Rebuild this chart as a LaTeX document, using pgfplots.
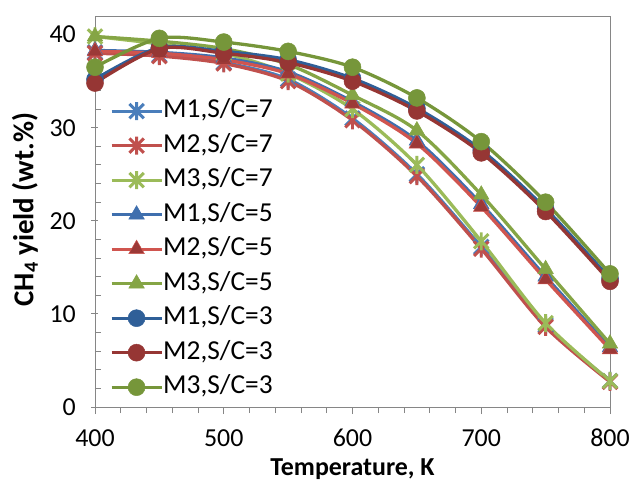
\documentclass[border=0pt]{standalone}
\usepackage{fontspec}
\setmainfont{Carlito}
\usepackage{pgfplots}
\pgfplotsset{compat=1.18}

\definecolor{b7}{HTML}{4A7EBB}
\definecolor{r7}{HTML}{C0504D}
\definecolor{g7}{HTML}{9BBB59}
\definecolor{b5}{HTML}{3F6FAE}
\definecolor{r5}{HTML}{D0554F}
\definecolor{g5}{HTML}{85A545}
\definecolor{b3}{HTML}{2F5F98}
\definecolor{r3}{HTML}{963634}
\definecolor{g3}{HTML}{76963A}
\definecolor{axgray}{HTML}{868686}

% Excel-style star: an X with a vertical stroke
\pgfdeclareplotmark{xstar}{%
  \pgfpathmoveto{\pgfqpoint{0pt}{\pgfplotmarksize}}%
  \pgfpathlineto{\pgfqpoint{0pt}{-\pgfplotmarksize}}%
  \pgfpathmoveto{\pgfqpoint{-.8\pgfplotmarksize}{-.8\pgfplotmarksize}}%
  \pgfpathlineto{\pgfqpoint{.8\pgfplotmarksize}{.8\pgfplotmarksize}}%
  \pgfpathmoveto{\pgfqpoint{-.8\pgfplotmarksize}{.8\pgfplotmarksize}}%
  \pgfpathlineto{\pgfqpoint{.8\pgfplotmarksize}{-.8\pgfplotmarksize}}%
  \pgfusepathqstroke}

\begin{document}
\begin{tikzpicture}
\begin{axis}[
    name=ax,
    scale only axis,
    width=515bp, height=391bp,
    xmin=400, xmax=800, ymin=0, ymax=42,
    xtick={400,500,...,800},
    minor x tick num=4,
    ytick={0,10,...,40},
    minor y tick num=4,
    axis line style={axgray, line width=1pt},
    tick style={axgray, line width=1pt},
    xtick pos=bottom, ytick pos=left,
    major tick length=7bp, minor tick length=6bp,
    x tick style={/pgfplots/tick align=outside},
    y tick style={/pgfplots/tick align=center},
    minor y tick style={/pgfplots/tick align=inside},
    /pgf/number format/assume math mode=true,
    ticklabel style={font=\fontsize{26}{28}\selectfont, text=black, inner sep=0pt},
    xticklabel style={yshift=-22bp},
    yticklabel style={xshift=-19bp},
    xlabel={\textbf{Temperature, K}},
    ylabel={\textbf{CH\textsubscript{4} yield (wt.\%)}},
    xlabel style={font=\fontsize{26}{28}\selectfont, at={(axis description cs:0.5,-0.1586)}, anchor=center},
    ylabel style={font=\fontsize{29}{31}\selectfont, at={(axis description cs:-0.136,0.505)}, anchor=center},
    every axis plot/.append style={smooth, line width=3.3pt},
    legend style={at={(0.029,0.786)}, anchor=north west, draw=none, fill=none,
        inner sep=0pt, outer sep=0pt,
        font=\fontsize{27.5}{29}\selectfont, row sep=11.5bp,
        nodes={inner sep=0pt, text height=18bp, text depth=5bp},
        /tikz/every even column/.append style={column sep=3bp}},
    legend cell align=left,
    legend image code/.code={
        \draw[mark repeat=2,mark phase=2] plot coordinates {(0bp,0bp) (25bp,0bp) (50bp,0bp)};
    },
]
% S/C=7 (stars)
\addplot[b7, mark=xstar, mark size=9bp, mark options={line width=3pt}] coordinates {
(400,38.1) (450,37.8) (500,37.0) (550,35.2) (600,31.0) (650,25.0) (700,17.2) (750,8.8) (800,2.8)};
\addlegendentry{M1,S/C=7}
\addplot[r7, mark=xstar, mark size=9bp, mark options={line width=3pt}] coordinates {
(400,38.0) (450,37.7) (500,36.9) (550,35.0) (600,30.8) (650,24.8) (700,17.0) (750,8.6) (800,2.7)};
\addlegendentry{M2,S/C=7}
\addplot[g7, mark=xstar, mark size=9bp, mark options={line width=3pt}] coordinates {
(400,39.8) (450,39.0) (500,38.0) (550,35.8) (600,32.0) (650,26.0) (700,17.8) (750,9.0) (800,2.8)};
\addlegendentry{M3,S/C=7}
% S/C=5 (triangles)
\addplot[b5, mark=triangle*, mark size=9bp, mark options={line width=0.5pt}] coordinates {
(400,38.3) (450,38.1) (500,37.5) (550,36.0) (600,32.8) (650,28.6) (700,21.8) (750,14.0) (800,6.4)};
\addlegendentry{M1,S/C=5}
\addplot[r5, mark=triangle*, mark size=9bp, mark options={line width=0.5pt, fill=r3!90!r5}] coordinates {
(400,38.2) (450,38.0) (500,37.3) (550,35.8) (600,32.6) (650,28.3) (700,21.5) (750,13.7) (800,6.2)};
\addlegendentry{M2,S/C=5}
\addplot[g5, mark=triangle*, mark size=9bp, mark options={line width=0.5pt}] coordinates {
(400,39.8) (450,39.3) (500,38.5) (550,36.8) (600,33.5) (650,29.7) (700,22.8) (750,14.8) (800,6.8)};
\addlegendentry{M3,S/C=5}
% S/C=3 (circles)
\addplot[b3, mark=*, mark size=8.5bp, mark options={line width=0.5pt}] coordinates {
(400,35.2) (450,38.6) (500,38.2) (550,37.3) (600,35.3) (650,32.1) (700,27.6) (750,21.3) (800,13.8)};
\addlegendentry{M1,S/C=3}
\addplot[r3, mark=*, mark size=8.5bp, mark options={line width=0.5pt}] coordinates {
(400,34.8) (450,38.5) (500,38.0) (550,37.0) (600,35.0) (650,31.8) (700,27.3) (750,21.0) (800,13.5)};
\addlegendentry{M2,S/C=3}
\addplot[g3, mark=*, mark size=8.5bp, mark options={line width=0.5pt}] coordinates {
(400,36.5) (450,39.6) (500,39.2) (550,38.2) (600,36.5) (650,33.2) (700,28.5) (750,22.0) (800,14.3)};
\addlegendentry{M3,S/C=3}
\coordinate (sw) at (rel axis cs:0,0);
\coordinate (ne) at (rel axis cs:1,1);
\end{axis}
\pgfresetboundingbox
\path ([shift={(-95bp,-74bp)}]sw) rectangle ([shift={(21bp,16bp)}]ne);
\end{tikzpicture}
\end{document}
